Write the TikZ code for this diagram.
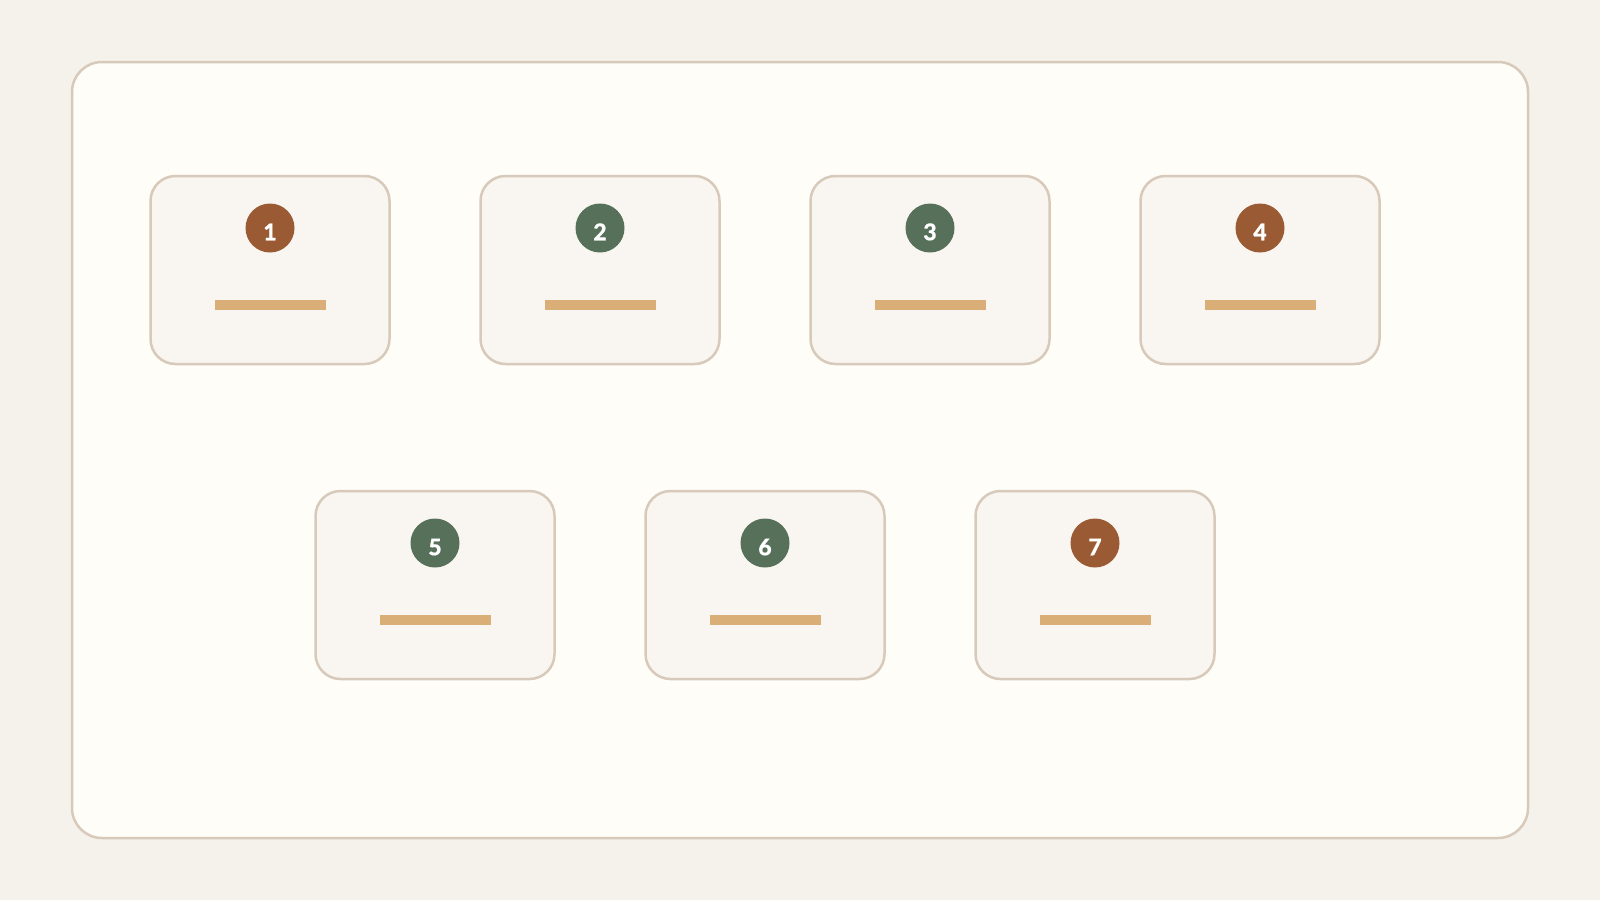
\documentclass[tikz,border=0pt]{standalone}
\usepackage{fontspec}
\setmainfont{Lato}
\newfontfamily\badgefont{Lato}[UprightFont={* Heavy},FakeBold=0.6]
\usepackage{tikz}

\definecolor{pagebg}{HTML}{F5F1EB}
\definecolor{framefill}{HTML}{FEFDF8}
\definecolor{edge}{HTML}{D8CABB}
\definecolor{cardfill}{HTML}{F9F5F0}
\definecolor{rust}{HTML}{9A5B34}
\definecolor{sage}{HTML}{56705A}
\definecolor{sand}{HTML}{D9AE77}

\begin{document}
\begin{tikzpicture}[x=1pt,y=-1pt,
    card/.style={draw=edge,fill=cardfill,line width=2.5pt,rounded corners=25pt,
      minimum width=239pt,minimum height=188pt,inner sep=0pt},
    badge/.style={circle,inner sep=0pt,minimum size=49pt,text=white,
      font=\badgefont\fontsize{23}{26}\selectfont,text height=24.5pt,text depth=0pt},
    bar/.style={fill=sand,inner sep=0pt,minimum width=111pt,minimum height=10pt}]
    \fill[pagebg] (0,0) rectangle (1600,900);
    \draw[edge,fill=framefill,line width=2.5pt,rounded corners=30pt] (72,62) rectangle (1528,838);

    \node[card] (k1) at (270,270) {};
    \node[card] (k2) at (600,270) {};
    \node[card] (k3) at (930,270) {};
    \node[card] (k4) at (1260,270) {};
    \node[card] (k5) at (435,585) {};
    \node[card] (k6) at (765,585) {};
    \node[card] (k7) at (1095,585) {};

    \node[badge,fill=rust] (n1) at (270,228) {1};
    \node[badge,fill=sage] (n2) at (600,228) {2};
    \node[badge,fill=sage] (n3) at (930,228) {3};
    \node[badge,fill=rust] (n4) at (1260,228) {4};
    \node[badge,fill=sage] (n5) at (435,543) {5};
    \node[badge,fill=sage] (n6) at (765,543) {6};
    \node[badge,fill=rust] (n7) at (1095,543) {7};

    \node[bar] (l1) at (270,305) {};
    \node[bar] (l2) at (600,305) {};
    \node[bar] (l3) at (930,305) {};
    \node[bar] (l4) at (1260,305) {};
    \node[bar] (l5) at (435,620) {};
    \node[bar] (l6) at (765,620) {};
    \node[bar] (l7) at (1095,620) {};
\end{tikzpicture}
\end{document}
